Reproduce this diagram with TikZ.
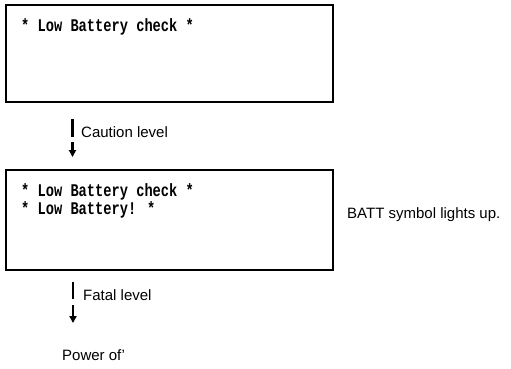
\documentclass[tikz,border=0pt]{standalone}
\usepackage{fontspec}
\setmainfont{Liberation Sans}
\newfontfamily\monofont{Liberation Mono}
\usetikzlibrary{arrows.meta}
\begin{document}
\begin{tikzpicture}[x=1pt,y=-1pt,
  screen/.style={draw=black, line width=2.2pt},
  mono/.style={anchor=base west, inner sep=0pt, font=\monofont\bfseries\fontsize{13.7}{16}\selectfont},
  lbl/.style={anchor=base west, inner sep=0pt, font=\fontsize{15}{18}\selectfont},
  bar/.style={line width=2.6pt},
  arr/.style={line width=2.2pt, -{Triangle[length=7pt,width=7pt]}}
]
\useasboundingbox (0,0) rectangle (511,368);
% screens
\draw[screen] (6,5) rectangle (333,102);
\draw[screen] (6,170) rectangle (333,270);
% texts in screens
\node[mono] (t1) at (21,31) {\scalebox{1}[1.3]{* Low Battery check *}};
\node[mono] (t2) at (21,196) {\scalebox{1}[1.3]{* Low Battery check *}};
\node[mono] (t3) at (21,214) {\scalebox{1}[1.3]{* Low Battery! *}};
\node[lbl] (batt) at (347,218) {BATT symbol lights up.};
% caution transition
\coordinate (c1) at (72.5,119);
\coordinate (c2) at (72.5,137);
\coordinate (c3) at (72.5,142);
\coordinate (c4) at (72.5,157);
\draw[bar] (c1) -- (c2);
\draw[arr] (c3) -- (c4);
\node[lbl] (caution) at (81,137) {Caution level};
% fatal transition
\coordinate (f1) at (73,282);
\coordinate (f2) at (73,299);
\coordinate (f3) at (73,305);
\coordinate (f4) at (73,323);
\draw[bar] (f1) -- (f2);
\draw[arr] (f3) -- (f4);
\node[lbl] (fatal) at (83,300) {Fatal level};
\node[lbl] (power) at (62,360) {Power of'};
\end{tikzpicture}
\end{document}
